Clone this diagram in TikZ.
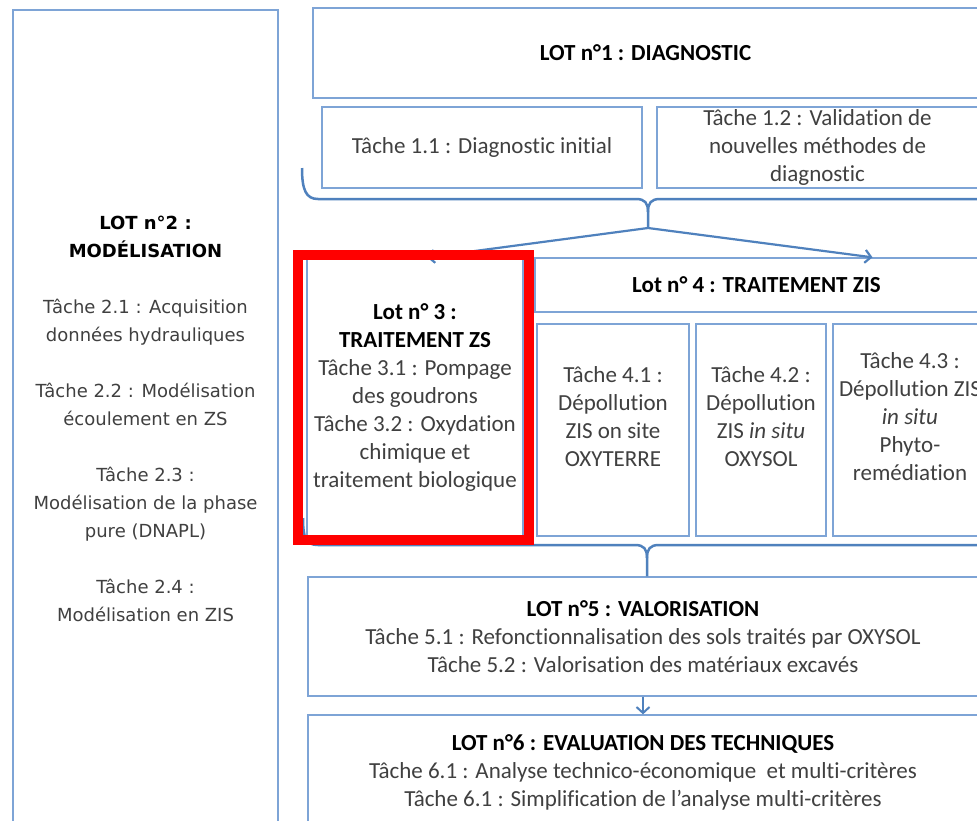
\documentclass[tikz,border=0pt]{standalone}
\usepackage{fontspec}
\setmainfont{Carlito}[Ligatures=NoCommon]
\newfontfamily\lotdeux{DejaVu Sans}
\usetikzlibrary{arrows.meta}
\definecolor{cadre}{RGB}{126,164,214}
\definecolor{bleu}{RGB}{79,129,189}
\definecolor{texte}{RGB}{64,64,64}
\definecolor{rouge}{RGB}{255,0,0}
\newcommand{\titrelot}[1]{\textcolor{black}{\bfseries #1}}

\begin{document}
\begin{tikzpicture}[x=1pt,y=-1pt,
    txt/.style={inner sep=0pt,align=center,text=texte,font=\fontsize{23}{28}\selectfont},
    boite/.style={txt,draw=cadre,line width=1.3pt},
    accolade/.style={draw=bleu,line width=2.5pt},
    >={Straight Barb[length=6pt,width=13pt]}]
    \fill[white] (0,0) rectangle (977,820);
    \useasboundingbox (0,0) rectangle (977,820);

    \node[boite,minimum width=265pt,minimum height=818pt,font=\lotdeux\fontsize{18}{28}\selectfont] (lot2) at (145.5,419)
      {\titrelot{LOT n°2 :}\\ \titrelot{MODÉLISATION}\\[28pt]
       Tâche 2.1 : Acquisition\\ données hydrauliques\\[28pt]
       Tâche 2.2 : Modélisation\\ écoulement en ZS\\[28pt]
       Tâche 2.3 :\\ Modélisation de la phase\\ pure (DNAPL)\\[28pt]
       Tâche 2.4 :\\ Modélisation en ZIS};

    \node[boite,minimum width=665pt,minimum height=90pt] (lot1) at (645.5,53) {\titrelot{LOT n°1 : DIAGNOSTIC}};
    \node[boite,minimum width=320pt,minimum height=81pt] (t11) at (482,147.5) {Tâche 1.1 : Diagnostic initial};
    \node[boite,minimum width=321pt,minimum height=81pt] (t12) at (817.5,147.5) {Tâche 1.2 : Validation de\\ nouvelles méthodes de\\ diagnostic};

    \node[boite,minimum width=216pt,minimum height=279pt] (lot3) at (415,397.5)
      {\titrelot{Lot n° 3 :}\\ \titrelot{TRAITEMENT ZS}\\ Tâche 3.1 : Pompage\\ des goudrons\\ Tâche 3.2 : Oxydation\\ chimique et\\ traitement biologique};
    \node[boite,minimum width=443pt,minimum height=54pt] (lot4) at (756.5,285) {\titrelot{Lot n° 4 : TRAITEMENT ZIS}};
    \node[boite,minimum width=152pt,minimum height=212pt] (t41) at (613,430) {};
    \node[boite,minimum width=130pt,minimum height=212pt] (t42) at (761,430) {};
    \node[boite,minimum width=154pt,minimum height=212pt] (t43) at (910,430) {};
    \node[txt] (t41txt) at ([yshift=13pt]t41.center) {Tâche 4.1 :\\ Dépollution\\ ZIS on site\\ OXYTERRE};
    \node[txt] (t42txt) at ([yshift=13pt]t42.center) {Tâche 4.2 :\\ Dépollution\\ ZIS \textit{in situ}\\ OXYSOL};
    \node[txt] (t43txt) at ([yshift=13pt]t43.center) {Tâche 4.3 :\\ Dépollution ZIS\\ \textit{in situ}\\ Phyto-\\ remédiation};

    \node[boite,minimum width=670pt,minimum height=119pt] (lot5) at (643,636.5)
      {\titrelot{LOT n°5 : VALORISATION}\\ Tâche 5.1 : Refonctionnalisation des sols traités par OXYSOL\\ Tâche 5.2 : Valorisation des matériaux excavés};
    \node[boite,minimum width=670pt,minimum height=114pt] (lot6) at (643,772)
      {\titrelot{LOT n°6 : EVALUATION DES TECHNIQUES}\\ Tâche 6.1 : Analyse technico-économique\ \ et multi-critères\\ Tâche 6.1 : Simplification de l’analyse multi-critères};

    % accolades
    \coordinate (b1) at (648,228);
    \draw[accolade] (302,168) .. controls (302,190) and (306,199) .. (318,199) -- (636,199)
      .. controls (645,199) and (648,203) .. (648,212) -- (b1);
    \draw[accolade] (990,199) -- (660,199) .. controls (651,199) and (648,203) .. (648,212);
    \draw[accolade,line width=2.2pt,arrows={->}] (b1) -- ([xshift=12pt]lot3.north);
    \draw[accolade,line width=2.2pt,arrows={->}] (b1) -- ([xshift=116pt]lot4.north);

    \draw[accolade] (303,518) .. controls (303,538) and (306,545) .. (318,545) -- (635,545)
      .. controls (644,545) and (647,549) .. (647,558) -- ([xshift=4pt]lot5.north);
    \draw[accolade] (990,545) -- (659,545) .. controls (650,545) and (647,549) .. (647,558);
    \draw[accolade,line width=2pt,arrows={->}] (lot5.south) -- (lot6.north);

    \node[draw=rouge,line width=10pt,minimum width=231pt,minimum height=285pt] (rouge3) at (413.5,397.5) {};
\end{tikzpicture}
\end{document}
